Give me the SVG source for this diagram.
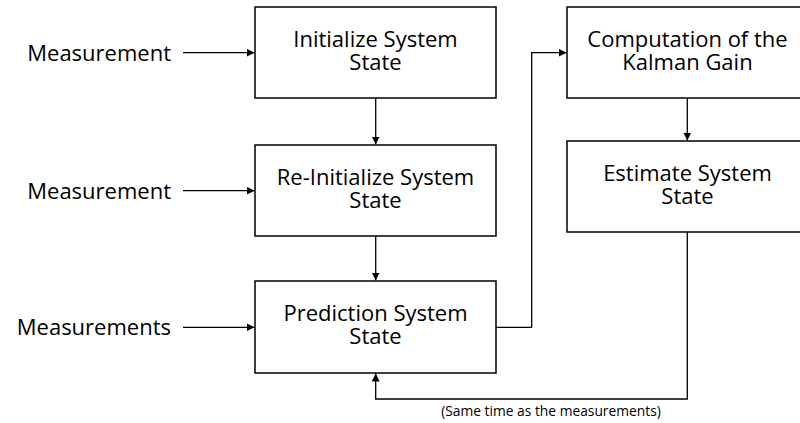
<svg xmlns="http://www.w3.org/2000/svg" width="800" height="423" viewBox="0 0 800 423">
  <style>
    .box { fill: #ffffff; stroke: #000000; stroke-width: 1.5; }
    .lbl { font-family: "Open Sans", "Noto Sans", sans-serif; font-size: 22px; fill: #000000; }
    .mid { text-anchor: middle; }
    .end { text-anchor: end; }
    .note { font-family: "Open Sans", "Noto Sans", sans-serif; font-size: 13.8px; fill: #000000; text-anchor: middle; }
    .wire { fill: none; stroke: #000000; stroke-width: 1.3; }
  </style>
  <defs>
    <marker id="arrow" viewBox="0 0 10 10" refX="10" refY="5" markerWidth="8" markerHeight="8" markerUnits="userSpaceOnUse" orient="auto">
      <path d="M0,0 L10,5 L0,10 Z" fill="#000000"/>
    </marker>
  </defs>

  <rect width="800" height="423" fill="#ffffff"/>

  <!-- input labels -->
  <g id="input-measurement-1">
    <text class="lbl end" x="171" y="61">Measurement</text>
  </g>
  <g id="input-measurement-2">
    <text class="lbl end" x="171" y="199">Measurement</text>
  </g>
  <g id="input-measurements">
    <text class="lbl end" x="171" y="335">Measurements</text>
  </g>

  <!-- process boxes -->
  <g id="initialize">
    <rect class="box" x="255" y="7" width="241" height="91"/>
    <text class="lbl mid" x="375.5" y="47">Initialize System</text>
    <text class="lbl mid" x="375.5" y="70">State</text>
  </g>
  <g id="reinitialize">
    <rect class="box" x="255" y="145" width="241" height="91"/>
    <text class="lbl mid" x="375.5" y="185">Re-Initialize System</text>
    <text class="lbl mid" x="375.5" y="208">State</text>
  </g>
  <g id="prediction">
    <rect class="box" x="255" y="281" width="241" height="92"/>
    <text class="lbl mid" x="375.5" y="321">Prediction System</text>
    <text class="lbl mid" x="375.5" y="344">State</text>
  </g>
  <g id="kalman-gain">
    <rect class="box" x="567" y="7" width="241" height="91"/>
    <text class="lbl mid" x="687.5" y="47">Computation of the</text>
    <text class="lbl mid" x="687.5" y="70">Kalman Gain</text>
  </g>
  <g id="estimate">
    <rect class="box" x="567" y="141" width="241" height="91"/>
    <text class="lbl mid" x="687.5" y="181">Estimate System</text>
    <text class="lbl mid" x="687.5" y="204">State</text>
  </g>

  <!-- connectors -->
  <g id="connectors">
    <line class="wire" x1="183" y1="52.7" x2="254.5" y2="52.7" marker-end="url(#arrow)"/>
    <line class="wire" x1="183" y1="190.7" x2="254.5" y2="190.7" marker-end="url(#arrow)"/>
    <line class="wire" x1="183" y1="327.3" x2="254.5" y2="327.3" marker-end="url(#arrow)"/>
    <line class="wire" x1="375.7" y1="98" x2="375.7" y2="144.5" marker-end="url(#arrow)"/>
    <line class="wire" x1="375.7" y1="236" x2="375.7" y2="280.5" marker-end="url(#arrow)"/>
    <polyline class="wire" points="496,327.3 531.7,327.3 531.7,52.7 566.5,52.7" marker-end="url(#arrow)"/>
    <line class="wire" x1="687.3" y1="98" x2="687.3" y2="140.5" marker-end="url(#arrow)"/>
    <polyline class="wire" points="687.3,232 687.3,399 375.7,399 375.7,373.5" marker-end="url(#arrow)"/>
    <text class="note" x="551" y="416">(Same time as the measurements)</text>
  </g>
</svg>
